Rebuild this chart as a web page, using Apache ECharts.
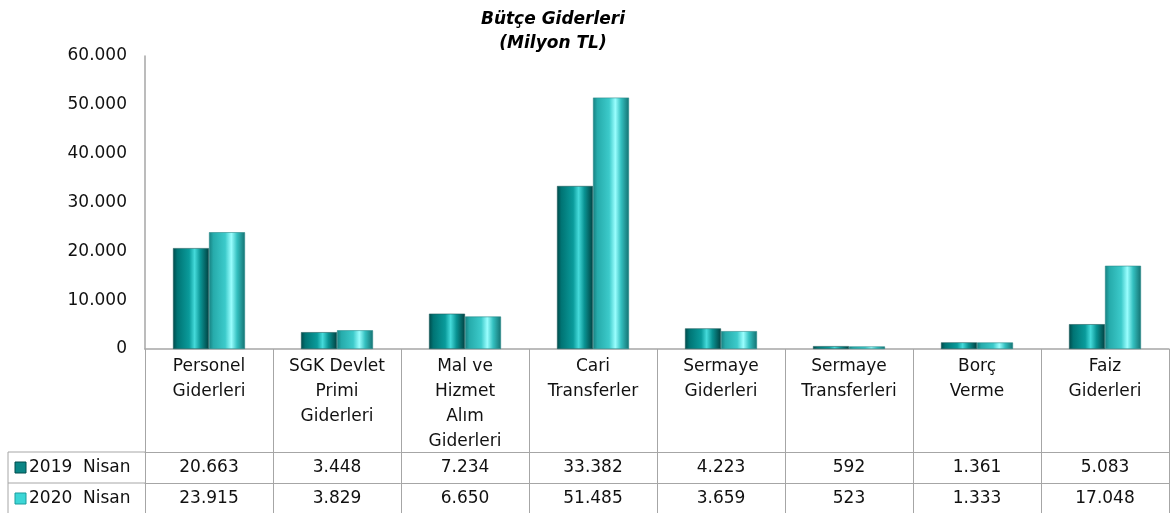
<!DOCTYPE html>
<html>
<head>
<meta charset="utf-8">
<script src="https://cdn.jsdelivr.net/npm/echarts@6/dist/echarts.min.js"></script>
<style>
  html, body { margin: 0; padding: 0; background: #fff; }
  #chart { width: 1176px; height: 513px; }
</style>
</head>
<body>
<div id="chart"></div>
<script>
const categories = [
  'Personel\nGiderleri',
  'SGK Devlet\nPrimi\nGiderleri',
  'Mal ve\nHizmet\nAlım\nGiderleri',
  'Cari\nTransferler',
  'Sermaye\nGiderleri',
  'Sermaye\nTransferleri',
  'Borç\nVerme',
  'Faiz\nGiderleri'
]
const values2019 = [20663, 3448, 7234, 33382, 4223, 592, 1361, 5083]
const values2020 = [23915, 3829, 6650, 51485, 3659, 523, 1333, 17048]
const seriesNames = ['2019  Nisan', '2020  Nisan']

const FONT = 'DejaVu Sans'
const lineColor = '#a6a6a6'

// 60.000 gibi nokta ile binlik ayraç
function fmt(v) {
  return String(v).replace(/\B(?=(\d{3})+(?!\d))/g, '.')
}

function cylinder(stops) {
  return new echarts.graphic.LinearGradient(0, 0, 1, 0, stops.map(c => {
    return { offset: c[0], color: c[1] }
  }))
}

const color2019 = cylinder([
  [0, '#004a4a'], [0.12, '#007474'], [0.45, '#0a9b9b'],
  [0.6, '#45dada'], [0.76, '#0a9494'], [1, '#004040']
])
const color2020 = cylinder([
  [0, '#168080'], [0.12, '#26abab'], [0.45, '#3ccaca'],
  [0.62, '#9afefe'], [0.78, '#34c0c0'], [1, '#147272']
])

const chart = echarts.init(document.getElementById('chart'))

// tablo satır başlıkları (lejant)
const rowCenters = [468, 499]
const legendColors = [['#0b8585', '#004c4c'], ['#3cd6d6', '#1b9d9d']]
let legendGraphics = []
seriesNames.forEach((name, i) => {
  legendGraphics.push({
    type: 'rect',
    shape: { x: 15, y: rowCenters[i] - 6, width: 11, height: 11 },
    style: { fill: legendColors[i][0], stroke: legendColors[i][1], lineWidth: 1 }
  })
  legendGraphics.push({
    type: 'text',
    x: 29,
    y: rowCenters[i],
    style: {
      text: name,
      fontFamily: FONT,
      fontSize: 17,
      fill: '#111',
      verticalAlign: 'middle'
    }
  })
})

const option = {
  animation: false,
  title: {
    text: 'Bütçe Giderleri\n(Milyon TL)',
    left: 548,
    top: 3,
    textAlign: 'center',
    textStyle: {
      fontFamily: FONT,
      fontSize: 17,
      fontWeight: 'bold',
      fontStyle: 'italic',
      color: '#000',
      lineHeight: 24
    }
  },
  grid: { left: 145, right: 7, top: 56, bottom: 164 },
  xAxis: [
    {
      type: 'category',
      data: categories,
      axisLine: { lineStyle: { color: lineColor, width: 1.5 } },
      axisTick: { show: true, length: 164, lineStyle: { color: lineColor } },
      axisLabel: {
        interval: 0,
        margin: 5,
        fontFamily: FONT,
        fontSize: 17,
        lineHeight: 25,
        color: '#111',
        verticalAlign: 'top'
      }
    },
    {
      type: 'category',
      position: 'bottom',
      offset: 103,
      data: values2019.map(fmt),
      axisLine: { show: true, lineStyle: { color: lineColor } },
      axisTick: { show: false },
      axisLabel: { interval: 0, margin: 7, fontFamily: FONT, fontSize: 17, color: '#111' }
    },
    {
      type: 'category',
      position: 'bottom',
      offset: 134,
      data: values2020.map(fmt),
      axisLine: { show: true, lineStyle: { color: lineColor } },
      axisTick: { show: false },
      axisLabel: { interval: 0, margin: 7, fontFamily: FONT, fontSize: 17, color: '#111' }
    }
  ],
  yAxis: {
    type: 'value',
    min: 0,
    max: 60000,
    interval: 10000,
    axisLine: { show: true, lineStyle: { color: lineColor, width: 1.5 } },
    axisTick: { show: false },
    splitLine: { show: false },
    axisLabel: {
      margin: 18,
      fontFamily: FONT,
      fontSize: 17,
      color: '#111',
      formatter: v => fmt(v)
    }
  },
  series: [
    {
      name: seriesNames[0],
      type: 'bar',
      data: values2019,
      barWidth: 36,
      barGap: '0%',
      itemStyle: { color: color2019, borderColor: '#1e5c5c', borderWidth: 0.6 }
    },
    {
      name: seriesNames[1],
      type: 'bar',
      data: values2020,
      barWidth: 36,
      itemStyle: { color: color2020, borderColor: '#2a8a8a', borderWidth: 0.6 }
    }
  ],
  graphic: [
    // tablonun sol başlık kutusu
    { type: 'line', shape: { x1: 8, y1: 452, x2: 145, y2: 452 }, style: { stroke: lineColor, lineWidth: 1 } },
    { type: 'line', shape: { x1: 8, y1: 483, x2: 145, y2: 483 }, style: { stroke: lineColor, lineWidth: 1 } },
    { type: 'line', shape: { x1: 8, y1: 452, x2: 8, y2: 513 }, style: { stroke: lineColor, lineWidth: 1 } }
  ].concat(legendGraphics)
}

option && chart.setOption(option)
</script>
</body>
</html>
